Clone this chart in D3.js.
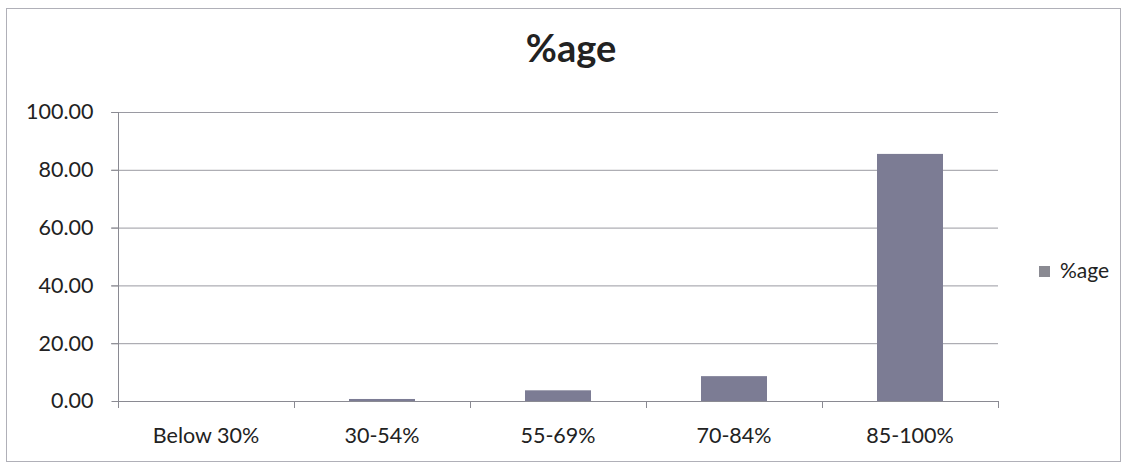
<!DOCTYPE html>
<html>
<head>
<meta charset="utf-8">
<script src="https://cdn.jsdelivr.net/npm/d3@7/dist/d3.min.js"></script>
<style>
  html, body { margin: 0; padding: 0; background: #fff; }
  text { font-family: Lato, "Open Sans", sans-serif; fill: #222; }
</style>
</head>
<body>
<script>
const categories = ["Below 30%", "30-54%", "55-69%", "70-84%", "85-100%"];
const values = [0, 0.7, 3.7, 8.6, 85.5];
const yTicks = [0, 20, 40, 60, 80, 100];
const seriesName = "%age";

const width = 1128, height = 466;
const margin = { left: 118, right: 130, top: 112, bottom: 65 };

const svg = d3.select("body").append("svg")
  .attr("width", width)
  .attr("height", height);

// chart frame
svg.append("rect")
  .attr("x", 6.5).attr("y", 8.5)
  .attr("width", 1114).attr("height", 453)
  .attr("fill", "#fff")
  .attr("stroke", "#b0b0b8");

const x = d3.scaleBand()
  .domain(categories)
  .range([margin.left, width - margin.right])
  .paddingInner(0.625)
  .paddingOuter(0.3125);

const y = d3.scaleLinear()
  .domain([0, 100])
  .range([height - margin.bottom, margin.top]);

// gridlines
svg.append("g")
  .selectAll("line")
  .data(yTicks.filter(d => d > 0))
  .join("line")
  .attr("x1", margin.left - 7)
  .attr("x2", width - margin.right)
  .attr("y1", d => y(d) + 0.5)
  .attr("y2", d => y(d) + 0.5)
  .attr("stroke", "#9a9aa2")
  .attr("stroke-width", 1);

// bars
svg.append("g")
  .selectAll("rect")
  .data(values)
  .join("rect")
  .attr("x", (d, i) => x(categories[i]))
  .attr("width", x.bandwidth())
  .attr("y", d => y(d))
  .attr("height", d => y(0) - y(d))
  .attr("fill", "#7c7c94");

// y axis
const yAxis = d3.axisLeft(y)
  .tickValues(yTicks)
  .tickFormat(d3.format(".2f"))
  .tickSize(7)
  .tickPadding(18);

const gy = svg.append("g")
  .attr("transform", `translate(${margin.left + 0.5},0)`)
  .call(yAxis);
gy.select(".domain").attr("stroke", "#8a8a92").attr("d", `M0,${y(100)}V${y(0) + 6}`);
gy.selectAll(".tick line").attr("stroke", "#8a8a92");
gy.selectAll(".tick text")
  .style("font-size", "21.5px")
  .attr("fill", "#222");

// x axis with ticks at category boundaries
const boundaries = d3.range(categories.length + 1).map(i => margin.left + i * (width - margin.left - margin.right) / categories.length);
const gx = svg.append("g");
gx.append("line")
  .attr("x1", margin.left).attr("x2", width - margin.right)
  .attr("y1", y(0) + 0.5).attr("y2", y(0) + 0.5)
  .attr("stroke", "#8a8a92");
gx.selectAll("line.tk")
  .data(boundaries)
  .join("line")
  .attr("class", "tk")
  .attr("x1", d => d + 0.5).attr("x2", d => d + 0.5)
  .attr("y1", y(0)).attr("y2", y(0) + 7)
  .attr("stroke", "#8a8a92");
gx.selectAll("text")
  .data(categories)
  .join("text")
  .attr("x", d => x(d) + x.bandwidth() / 2)
  .attr("y", 443)
  .attr("text-anchor", "middle")
  .style("font-size", "21.5px")
  .text(d => d);

// title
svg.append("text")
  .attr("x", 571)
  .attr("y", 62)
  .attr("text-anchor", "middle")
  .style("font-size", "38px")
  .style("font-weight", "bold")
  .text(seriesName);

// legend
const lg = svg.append("g").attr("transform", "translate(1039,266)");
lg.append("rect").attr("width", 11).attr("height", 11).attr("fill", "#8a8a92");
lg.append("text")
  .attr("x", 21).attr("y", 12)
  .style("font-size", "21px")
  .text(seriesName);
</script>
</body>
</html>
